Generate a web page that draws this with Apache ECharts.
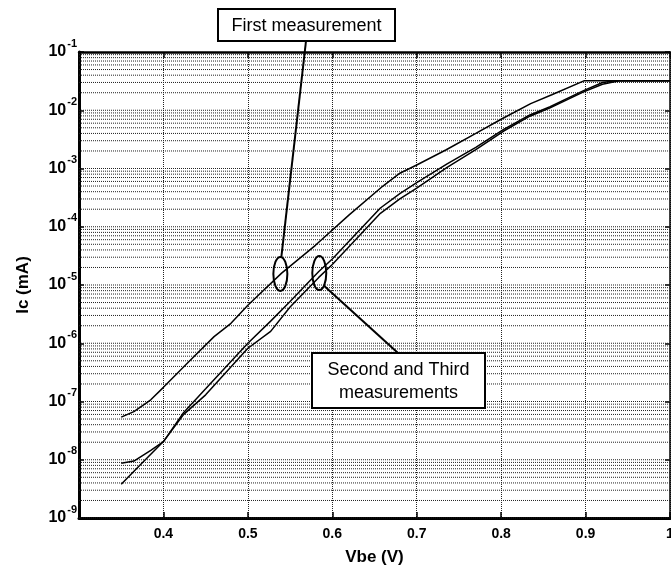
<!DOCTYPE html>
<html><head><meta charset="utf-8">
<script src="https://cdn.jsdelivr.net/npm/echarts@6/dist/echarts.min.js"></script>
<style>html,body{margin:0;padding:0;background:#fff}#c{width:671px;height:571px}</style>
</head><body><div id="c"></div>
<script>
// ---- data ----
const vbeFirst = [0.35,0.365,0.385,0.40,0.43,0.46,0.48,0.50,0.54,0.58,0.62,0.66,0.68,0.70,0.735,0.77,0.80,0.835,0.86,0.898,1.0];
const icFirst  = [5.4e-8,6.7e-8,1.07e-7,1.75e-7,4.8e-7,1.3e-6,2.2e-6,4.5e-6,1.6e-5,4.8e-5,1.6e-4,5.0e-4,8.3e-4,1.15e-3,2.1e-3,4.0e-3,7.0e-3,1.3e-2,1.85e-2,3.2e-2,3.2e-2];

const vbeSecond = [0.35,0.365,0.385,0.40,0.424,0.45,0.50,0.527,0.55,0.584,0.60,0.657,0.68,0.70,0.736,0.77,0.803,0.834,0.858,0.897,0.92,0.94,1.0];
const icSecond  = [8.7e-9,9.5e-9,1.45e-8,2.05e-8,6.0e-8,1.3e-7,8.2e-7,1.6e-6,4.2e-6,1.35e-5,2.25e-5,1.7e-4,3.0e-4,4.6e-4,1.05e-3,2.1e-3,4.4e-3,7.9e-3,1.1e-2,2.05e-2,2.8e-2,3.2e-2,3.2e-2];

const vbeThird = [0.35,0.375,0.40,0.424,0.45,0.50,0.527,0.55,0.584,0.60,0.657,0.68,0.70,0.736,0.77,0.803,0.834,0.858,0.897,0.92,0.935,1.0];
const icThird  = [3.8e-9,8.9e-9,2.05e-8,6.5e-8,1.65e-7,1.0e-6,2.4e-6,5.2e-6,1.7e-5,2.8e-5,2.1e-4,3.7e-4,5.7e-4,1.2e-3,2.3e-3,4.7e-3,8.3e-3,1.15e-2,2.15e-2,3.0e-2,3.2e-2,3.2e-2];

const xMin = 0.3, xMax = 1.0, xStep = 0.1;
const yDecades = [-9,-8,-7,-6,-5,-4,-3,-2];
const yMultipliers = [1,2,3,4,5,6,7,8,9];
const annotFirst = 'First measurement';
const annotOthers = ['Second and Third', 'measurements'];
const xTitle = 'Vbe (V)';
const yTitle = 'Ic (mA)';

// ---- build ----
const FONT = '"Liberation Sans", Arial, Helvetica, sans-serif';
const zip = (a, b) => a.map((v, i) => [v, b[i]]);
const gridVals = [];
yDecades.forEach(d => yMultipliers.forEach(m => gridVals.push(m * Math.pow(10, d))));

const gridSeries = gridVals.map(v => ({
  type: 'line', data: [[xMin, v], [xMax, v]], symbol: 'none', silent: true, z: 1,
  lineStyle: {type: 'dotted', color: '#222', width: 1}
}));

const chart = echarts.init(document.getElementById('c'), null, {renderer: 'canvas'});
const lineStyle = {color: '#000', width: 1.5};
chart.setOption({
  animation: false,
  backgroundColor: '#fff',
  grid: {left: 79, top: 52, right: 1, bottom: 53, containLabel: false, outerBoundsMode: 'none'},
  xAxis: [{
    type: 'value', min: xMin, max: xMax, interval: xStep,
    name: xTitle, nameLocation: 'middle', nameGap: 31,
    nameTextStyle: {fontFamily: FONT, fontSize: 17, fontWeight: 'bold', color: '#000'},
    axisLine: {lineStyle: {color: '#000', width: 3}},
    axisTick: {inside: true, length: 6, lineStyle: {color: '#000', width: 1.5}},
    axisLabel: {
      showMinLabel: false, margin: 9, color: '#000', hideOverlap: false,
      fontFamily: FONT, fontSize: 14, fontWeight: 'bold',
      formatter: v => (Math.abs(v - 1) < 1e-9 ? '1' : v.toFixed(1))
    },
    splitLine: {show: true, lineStyle: {type: 'dotted', color: '#222', width: 1}}
  }, {
    type: 'value', position: 'top', min: xMin, max: xMax, interval: xStep,
    axisLine: {show: true, lineStyle: {color: '#000', width: 2.5}},
    axisTick: {show: true, inside: true, length: 6, lineStyle: {color: '#000', width: 1.5}},
    axisLabel: {show: false}, splitLine: {show: false}
  }],
  yAxis: [{
    type: 'log', logBase: 10, min: 1e-9, max: 1e-1, interval: 1,
    name: yTitle, nameLocation: 'middle', nameGap: 47, nameRotate: 90,
    nameTextStyle: {fontFamily: FONT, fontSize: 17, fontWeight: 'bold', color: '#000'},
    axisLine: {show: true, lineStyle: {color: '#000', width: 3}},
    axisTick: {show: true, inside: true, length: 5, lineStyle: {color: '#000', width: 1.5}},
    axisLabel: {
      margin: 2, color: '#000',
      formatter: v => '{b|10}{s|' + Math.round(Math.log10(v)) + '}',
      rich: {
        b: {fontFamily: FONT, fontSize: 16, fontWeight: 'bold', color: '#000'},
        s: {fontFamily: FONT, fontSize: 11, fontWeight: 'bold', color: '#000', padding: [0, 0, 17, 1]}
      }
    },
    splitLine: {show: false}
  }, {
    type: 'log', logBase: 10, min: 1e-9, max: 1e-1, interval: 1, position: 'right',
    axisLine: {show: true, lineStyle: {color: '#000', width: 1.5}},
    axisTick: {show: true, inside: true, length: 5, lineStyle: {color: '#000', width: 1.5}},
    axisLabel: {show: false}, splitLine: {show: false}
  }],
  series: gridSeries.concat([
    {type: 'line', data: zip(vbeFirst, icFirst), symbol: 'none', lineStyle, z: 5},
    {type: 'line', data: zip(vbeSecond, icSecond), symbol: 'none', lineStyle, z: 5},
    {type: 'line', data: zip(vbeThird, icThird), symbol: 'none', lineStyle, z: 5}
  ])
});

// annotations
const e1 = chart.convertToPixel({gridIndex: 0}, [0.5385, 1.55e-5]);
const e2 = chart.convertToPixel({gridIndex: 0}, [0.5846, 1.6e-5]);
const RX = 7, RY = 17;
const box1 = {x: 218, y: 9, w: 177, h: 32};
const box2 = {x: 312, y: 353, w: 173, h: 55};
const stroke = {stroke: '#000', lineWidth: 2, fill: null};
chart.setOption({
  graphic: [
    {type: 'line', z: 100, shape: {x1: box1.x + 88, y1: box1.y + box1.h, x2: e1[0] + 1, y2: e1[1] - RY}, style: {stroke: '#000', lineWidth: 2}},
    {type: 'ellipse', z: 100, shape: {cx: e1[0], cy: e1[1], rx: RX, ry: RY}, style: stroke},
    {type: 'rect', z: 100, shape: {x: box1.x, y: box1.y, width: box1.w, height: box1.h}, style: {stroke: '#000', lineWidth: 2, fill: '#fff'}},
    {type: 'text', z: 101, x: box1.x + box1.w / 2, y: box1.y + box1.h / 2 + 1,
      style: {text: annotFirst, fontFamily: FONT, fontSize: 18, fill: '#000', align: 'center', verticalAlign: 'middle'}},
    {type: 'line', z: 100, shape: {x1: e2[0] + 5, y1: e2[1] + 13, x2: box2.x + 86, y2: box2.y}, style: {stroke: '#000', lineWidth: 2}},
    {type: 'ellipse', z: 100, shape: {cx: e2[0], cy: e2[1], rx: RX, ry: RY}, style: stroke},
    {type: 'rect', z: 100, shape: {x: box2.x, y: box2.y, width: box2.w, height: box2.h}, style: {stroke: '#000', lineWidth: 2, fill: '#fff'}},
    {type: 'text', z: 101, x: box2.x + box2.w / 2, y: box2.y + box2.h / 2 + 1,
      style: {text: annotOthers.join('\n'), fontFamily: FONT, fontSize: 18, lineHeight: 23, fill: '#000', align: 'center', verticalAlign: 'middle'}}
  ]
});
</script>
</body></html>
